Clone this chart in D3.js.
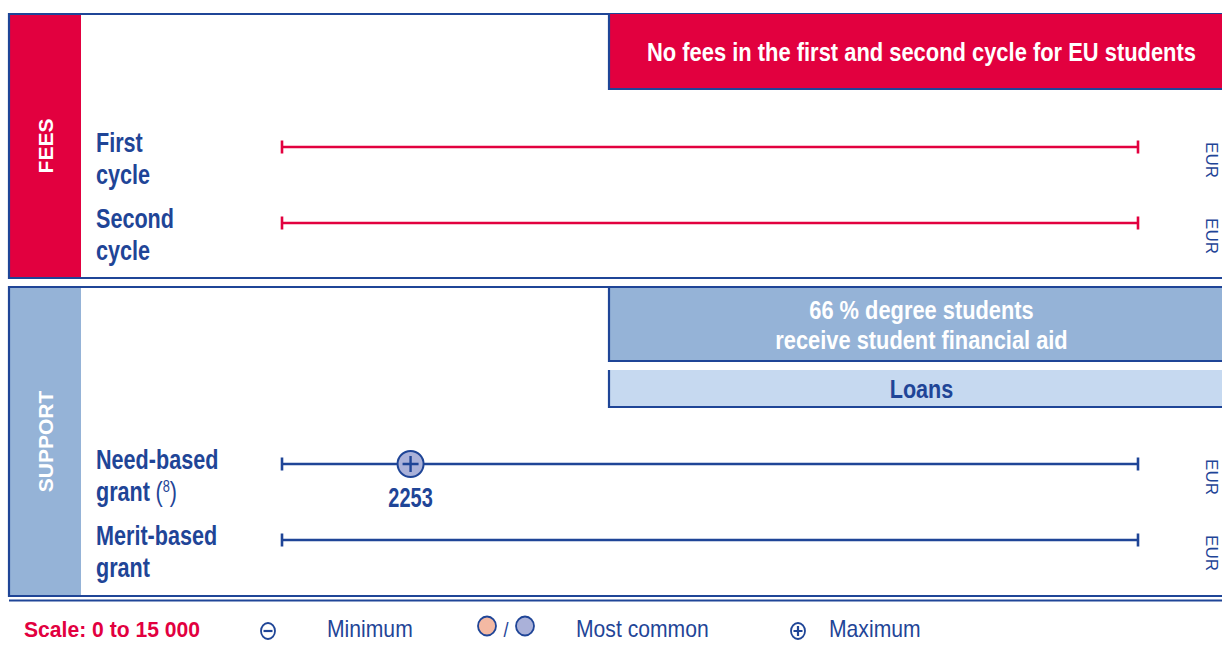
<!DOCTYPE html>
<html>
<head>
<meta charset="utf-8">
<script src="https://cdn.jsdelivr.net/npm/d3@7"></script>
<style>
  html, body { margin: 0; padding: 0; background: #fff; }
  svg { display: block; }
  text { font-family: "Liberation Sans", Arial, sans-serif; }
</style>
</head>
<body>
<svg id="chart" width="1222" height="646"></svg>
<script>
// Fee and support amounts, EUR per year, on a common 0–15 000 scale
const scaleDomain = [0, 15000];
const feeRows = [["First", "cycle"], ["Second", "cycle"]];
const feeMax = [null, null];
const supportRows = [["Need-based", "grant"], ["Merit-based", "grant"]];
const supportNotes = ["8", null];
const supportMax = [2253, null];
const feeBanner = ["No fees in the first and second cycle for EU students"];
const aidBanner = ["66 % degree students", "receive student financial aid"];
const loanBanner = ["Loans"];
const unitLabel = "EUR";
const legendItems = ["Minimum", "Most common", "Maximum"];
const scaleLabel = "Scale: 0 to 15 000";

const BLUE = "#1f4597", RED = "#e2003f", SIDE = "#95b3d7", LIGHT = "#c6d9f0", DOT = "#aab1d9", PINK = "#f4b9a3";

const svg = d3.select("#chart");
const x = d3.scaleLinear().domain(scaleDomain).range([282, 1138]);

// condensed text: regular face squeezed horizontally
function ctext(parent, tx, ty, k, size, weight, fill, anchor) {
  return parent.append("text")
    .attr("transform", `translate(${tx},${ty}) scale(${k},1)`)
    .attr("font-size", size).attr("font-weight", weight).attr("fill", fill)
    .attr("text-anchor", anchor || "start");
}

function panel(top, bottom, sideColor, sideText) {
  const g = svg.append("g");
  g.append("rect").attr("x", 9).attr("y", top).attr("width", 72).attr("height", bottom - top).attr("fill", sideColor);
  g.append("path").attr("d", `M1230,${top}H9V${bottom}H1230`).attr("fill", "none").attr("stroke", BLUE).attr("stroke-width", 2.2);
  g.append("text").attr("transform", `translate(53,${(top + bottom) / 2}) rotate(-90)`)
    .attr("text-anchor", "middle").attr("fill", "#fff")
    .attr("font-weight", "bold").attr("font-size", 21).text(sideText);
  return g;
}

function rowLabel(lines, y, note) {
  lines.forEach((l, i) => {
    const t = ctext(svg, 96, y + i * 31.5, 0.8, 27, "bold", BLUE).text(l);
    if (i === 1 && note) {
      t.append("tspan").attr("font-weight", "normal").attr("dx", 7).text("(");
      t.append("tspan").attr("font-weight", "normal").attr("font-size", 16).attr("dy", -9).text(note);
      t.append("tspan").attr("font-weight", "normal").attr("dy", 9).text(")");
    }
  });
}

function scaleLine(y, color) {
  const g = svg.append("g");
  g.append("line").attr("x1", x(scaleDomain[0])).attr("x2", x(scaleDomain[1])).attr("y1", y).attr("y2", y)
    .attr("stroke", color).attr("stroke-width", 2.4);
  scaleDomain.forEach(v => g.append("line").attr("x1", x(v)).attr("x2", x(v)).attr("y1", y - 6.5).attr("y2", y + 6.5)
    .attr("stroke", color).attr("stroke-width", 2.6));
  svg.append("text").attr("transform", `translate(1206,${y + 13}) rotate(90)`)
    .attr("fill", BLUE).attr("font-size", 17)
    .attr("text-anchor", "middle").text(unitLabel);
}

function maxMarker(v, y) {
  const cx = x(v);
  svg.append("circle").attr("cx", cx).attr("cy", y).attr("r", 13).attr("fill", DOT).attr("stroke", BLUE).attr("stroke-width", 2);
  svg.append("path").attr("d", `M${cx - 8},${y}H${cx + 8}M${cx},${y - 8}V${y + 8}`).attr("stroke", BLUE).attr("stroke-width", 2.4);
  ctext(svg, cx, y + 43, 0.74, 27, "bold", BLUE, "middle").text(d3.format("")(v));
}

function banner(x0, y0, y1, fill, lines, textColor, size, k) {
  svg.append("rect").attr("x", x0).attr("y", y0).attr("width", 1230 - x0).attr("height", y1 - y0).attr("fill", fill);
  svg.append("path").attr("d", `M${x0},${y0}V${y1}H1230`).attr("fill", "none").attr("stroke", BLUE).attr("stroke-width", 2.2);
  const cx = (x0 + 1234) / 2, cy = (y0 + y1) / 2;
  const lh = size * 1.15;
  lines.forEach((l, i) => {
    ctext(svg, cx, cy + (i - (lines.length - 1) / 2) * lh + size * 0.36, k, size, "bold", textColor, "middle").text(l);
  });
}

// FEES panel
panel(14, 278, RED, "FEES");
banner(609, 14, 89, RED, feeBanner, "#fff", 26, 0.843);
const feeY = [147, 223];
feeRows.forEach((r, i) => {
  scaleLine(feeY[i], RED);
  rowLabel(r, feeY[i] + 5, null);
  if (feeMax[i] != null) maxMarker(feeMax[i], feeY[i]);
});

// SUPPORT panel
panel(287, 596, SIDE, "SUPPORT");
banner(609, 288, 361, SIDE, aidBanner, "#fff", 26, 0.84);
banner(609, 370, 407, LIGHT, loanBanner, BLUE, 26, 0.83);
const supY = [464, 540];
supportRows.forEach((r, i) => {
  scaleLine(supY[i], BLUE);
  rowLabel(r, supY[i] + 5, supportNotes[i]);
  if (supportMax[i] != null) maxMarker(supportMax[i], supY[i]);
});

// Footer rule and legend
svg.append("line").attr("x1", 9).attr("x2", 1230).attr("y1", 600.5).attr("y2", 600.5).attr("stroke", BLUE).attr("stroke-width", 2.2);
ctext(svg, 24, 637, 0.96, 22, "bold", RED).text(scaleLabel);

const ly = 631;
svg.append("ellipse").attr("cx", 268).attr("cy", ly).attr("rx", 7).attr("ry", 8).attr("fill", "#fff").attr("stroke", BLUE).attr("stroke-width", 1.8);
svg.append("path").attr("d", `M263.5,${ly}H272.5`).attr("stroke", BLUE).attr("stroke-width", 2.2);
svg.append("ellipse").attr("cx", 487).attr("cy", 626).attr("rx", 9).attr("ry", 9.5).attr("fill", PINK).attr("stroke", BLUE).attr("stroke-width", 1.8);
ctext(svg, 506, 637, 0.9, 20, "normal", BLUE, "middle").text("/");
svg.append("ellipse").attr("cx", 525).attr("cy", 626).attr("rx", 9).attr("ry", 9.5).attr("fill", DOT).attr("stroke", BLUE).attr("stroke-width", 1.8);
svg.append("ellipse").attr("cx", 798).attr("cy", ly).attr("rx", 7).attr("ry", 8).attr("fill", "#fff").attr("stroke", BLUE).attr("stroke-width", 1.8);
svg.append("path").attr("d", `M793.5,${ly}H802.5M798,${ly - 5}V${ly + 5}`).attr("stroke", BLUE).attr("stroke-width", 2.2);
[[327, legendItems[0]], [576, legendItems[1]], [829, legendItems[2]]].forEach(([lx, t]) =>
  ctext(svg, lx, 637, 0.92, 23, "normal", BLUE).text(t));
</script>
</body>
</html>
